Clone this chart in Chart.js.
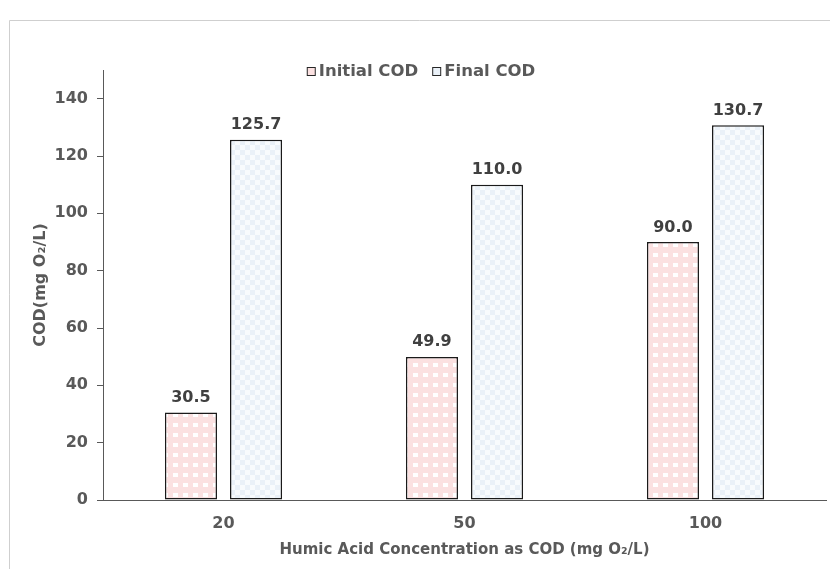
<!DOCTYPE html>
<html>
<head>
<meta charset="utf-8">
<script src="https://cdn.jsdelivr.net/npm/chart.js@4.4.1/dist/chart.umd.min.js"></script>
<style>
  html, body { margin: 0; padding: 0; background: #ffffff; }
  #wrap { width: 830px; height: 569px; position: relative; }
</style>
</head>
<body>
<div id="wrap"><canvas id="chart"></canvas></div>
<script>
// Humic acid concentration levels (mg O2/L)
const categories = ['20', '50', '100'];
// Measured COD values (mg O2/L)
const initialCOD = [30.5, 49.9, 90.0];
const finalCOD = [125.7, 110.0, 130.7];
const seriesNames = ['Initial COD', 'Final COD'];
const yTicks = [0, 20, 40, 60, 80, 100, 120, 140];

const FONT = '"DejaVu Sans", Verdana, sans-serif';
const TEXT = '#595959';

// Small tiled fills for the bars
function makePattern(base, spot, draw) {
  const c = document.createElement('canvas');
  c.width = 10; c.height = 10;
  const g = c.getContext('2d');
  g.fillStyle = base;
  g.fillRect(0, 0, 10, 10);
  g.fillStyle = spot;
  draw(g);
  return g.createPattern(c, 'repeat');
}
const pinkFill = makePattern('#fbe1e1', '#ffffff', g => { g.fillRect(3, 3, 5, 4); });
const blueFill = makePattern('#f8fbfd', '#eaf1f8', g => {
  g.fillRect(0, 0, 5, 5); g.fillRect(5, 5, 5, 5);
});
const legendColors = ['#fbe1e1', '#eaf1f8'];

// Frame lines around the figure
const framePlugin = {
  id: 'frame',
  beforeDraw(chart) {
    const ctx = chart.ctx;
    ctx.save();
    ctx.fillStyle = '#ffffff';
    ctx.fillRect(0, 0, chart.width, chart.height);
    ctx.strokeStyle = '#cfcfcf';
    ctx.lineWidth = 1;
    ctx.beginPath();
    ctx.moveTo(9.5, chart.height);
    ctx.lineTo(9.5, 20.5);
    ctx.lineTo(chart.width, 20.5);
    ctx.stroke();
    ctx.restore();
  }
};

// Value labels above the bars
const valueLabels = {
  id: 'valueLabels',
  afterDatasetsDraw(chart) {
    const ctx = chart.ctx;
    ctx.save();
    ctx.font = 'bold 16px ' + FONT;
    ctx.fillStyle = '#404040';
    ctx.textAlign = 'center';
    ctx.textBaseline = 'alphabetic';
    chart.data.datasets.forEach((ds, i) => {
      chart.getDatasetMeta(i).data.forEach((bar, j) => {
        ctx.fillText(ds.data[j].toFixed(1), bar.x, bar.y - 10.5);
      });
    });
    ctx.restore();
  }
};

// Legend drawn over the top of the plot
const topLegend = {
  id: 'topLegend',
  afterDraw(chart) {
    const ctx = chart.ctx;
    ctx.save();
    ctx.font = 'bold 16.5px ' + FONT;
    const box = 8, gap = 4, spacing = 14;
    const widths = seriesNames.map(n => ctx.measureText(n).width);
    const total = widths.reduce((a, w) => a + box + gap + w, 0) + spacing * (seriesNames.length - 1);
    let x = 421 - total / 2;
    const cy = 71;
    ctx.textBaseline = 'middle';
    ctx.textAlign = 'left';
    seriesNames.forEach((n, i) => {
      ctx.fillStyle = legendColors[i];
      ctx.fillRect(x + 0.5, cy - box / 2 + 0.5, box, box);
      ctx.strokeStyle = '#262626';
      ctx.lineWidth = 1;
      ctx.strokeRect(x + 0.5, cy - box / 2 + 0.5, box, box);
      ctx.fillStyle = TEXT;
      ctx.fillText(n, x + box + gap, cy + 1);
      x += box + gap + widths[i] + spacing;
    });
    ctx.restore();
  }
};

new Chart(document.getElementById('chart'), {
  type: 'bar',
  data: {
    labels: categories,
    datasets: [
      { label: seriesNames[0], data: initialCOD, backgroundColor: pinkFill,
        borderColor: '#1a1a1a', borderWidth: 1.5, borderSkipped: false },
      { label: seriesNames[1], data: finalCOD, backgroundColor: blueFill,
        borderColor: '#1a1a1a', borderWidth: 1.5, borderSkipped: false }
    ]
  },
  options: {
    responsive: true,
    maintainAspectRatio: false,
    animation: false,
    devicePixelRatio: 1,
    layout: { padding: { top: 70, right: 4, left: 0, bottom: 0 } },
    datasets: { bar: { categoryPercentage: 0.54, barPercentage: 0.8 } },
    plugins: { legend: { display: false }, tooltip: { enabled: false } },
    scales: {
      x: {
        grid: { display: false },
        border: { display: true, color: '#595959', width: 1 },
        ticks: { color: TEXT, font: { family: FONT, weight: 'bold', size: 16 }, padding: 6 },
        title: {
          display: true,
          text: 'Humic Acid Concentration as COD (mg O\u2082/L)',
          color: TEXT,
          font: { family: FONT, weight: 'bold', size: 15 },
          padding: { top: 0, bottom: 10 }
        },
        afterFit(scale) { scale.height = 69; }
      },
      y: {
        min: 0,
        max: 150,
        afterBuildTicks(scale) { scale.ticks = yTicks.map(v => ({ value: v })); },
        grid: { display: true, drawOnChartArea: false, drawTicks: true, tickLength: 6, color: '#595959' },
        border: { display: true, color: '#595959', width: 1 },
        ticks: { color: TEXT, font: { family: FONT, weight: 'bold', size: 16 }, padding: 9 },
        title: {
          display: true,
          text: 'COD(mg O\u2082/L)',
          color: TEXT,
          font: { family: FONT, weight: 'bold', size: 16 },
          padding: { top: 31, bottom: 0 }
        },
        afterFit(scale) { scale.width = 103; }
      }
    }
  },
  plugins: [framePlugin, valueLabels, topLegend]
});
</script>
</body>
</html>
